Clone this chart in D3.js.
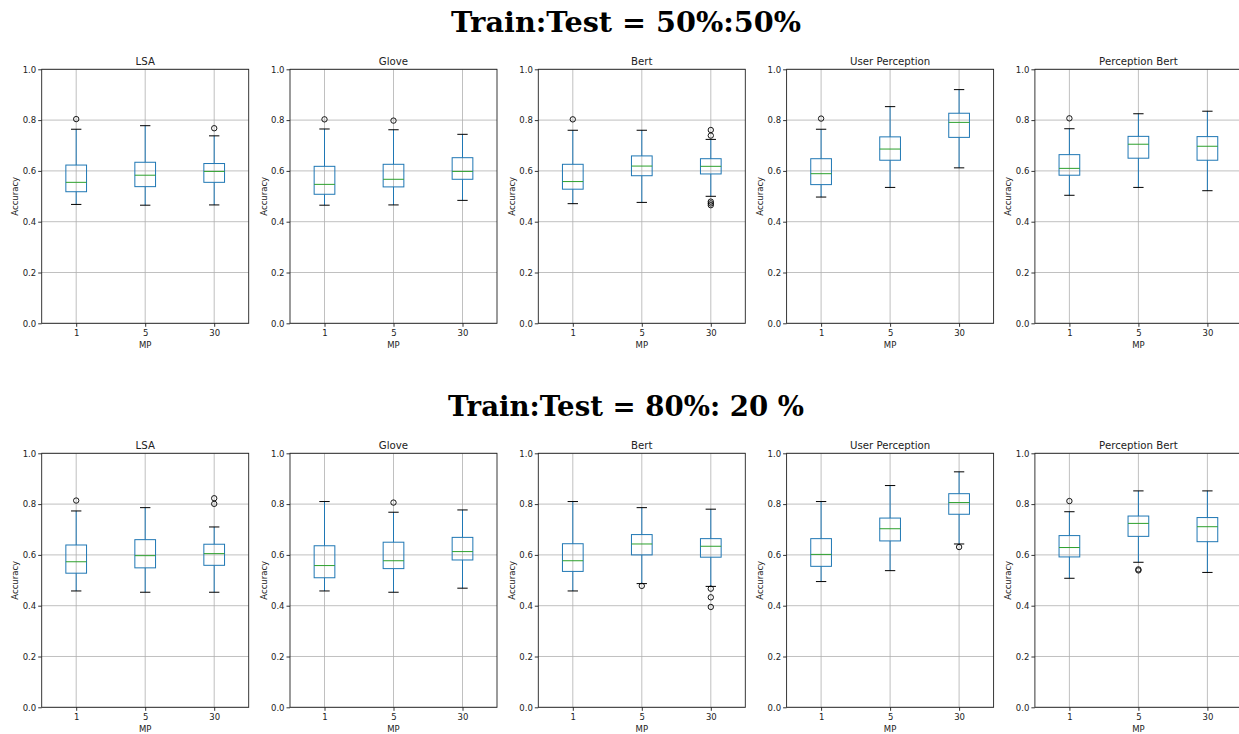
<!DOCTYPE html>
<html>
<head>
<meta charset="utf-8">
<script src="https://cdn.jsdelivr.net/npm/d3@7"></script>
<style>
  body { margin: 0; background: #fff; }
  svg { display: block; }
  .tick text { font-family: "DejaVu Sans", sans-serif; }
</style>
</head>
<body>
<div id="chart"></div>
<script>
// categories
const methods = ["LSA", "Glove", "Bert", "User Perception", "Perception Bert"];
const mpLevels = ["1", "5", "30"];
const yTicks = [0, 0.2, 0.4, 0.6, 0.8, 1.0];
const splitTitles = ["Train:Test = 50%:50%", "Train:Test = 80%: 20 %"];

// box stats per panel: [whiskerLow, q1, median, q3, whiskerHigh] for MP 1, 5, 30
// split 50:50
const lsa50 = [[0.468, 0.518, 0.555, 0.623, 0.764], [0.465, 0.538, 0.583, 0.634, 0.778], [0.466, 0.555, 0.598, 0.629, 0.738]];
const glove50 = [[0.465, 0.508, 0.547, 0.618, 0.765], [0.466, 0.537, 0.567, 0.626, 0.762], [0.484, 0.567, 0.598, 0.652, 0.744]];
const bert50 = [[0.471, 0.528, 0.558, 0.626, 0.760], [0.476, 0.581, 0.619, 0.659, 0.760], [0.500, 0.588, 0.618, 0.648, 0.724]];
const user50 = [[0.497, 0.546, 0.589, 0.648, 0.764], [0.535, 0.642, 0.686, 0.734, 0.853], [0.612, 0.732, 0.791, 0.827, 0.920]];
const percBert50 = [[0.504, 0.583, 0.610, 0.664, 0.766], [0.535, 0.650, 0.705, 0.736, 0.825], [0.522, 0.642, 0.697, 0.735, 0.835]];
// split 80:20
const lsa80 = [[0.458, 0.528, 0.573, 0.639, 0.773], [0.453, 0.549, 0.597, 0.660, 0.786], [0.453, 0.559, 0.605, 0.642, 0.710]];
const glove80 = [[0.458, 0.510, 0.558, 0.636, 0.810], [0.453, 0.546, 0.577, 0.650, 0.768], [0.469, 0.580, 0.613, 0.669, 0.777]];
const bert80 = [[0.458, 0.535, 0.577, 0.644, 0.810], [0.487, 0.600, 0.643, 0.680, 0.786], [0.476, 0.591, 0.634, 0.664, 0.780]];
const user80 = [[0.495, 0.555, 0.602, 0.664, 0.810], [0.538, 0.655, 0.703, 0.745, 0.873], [0.643, 0.760, 0.806, 0.841, 0.927]];
const percBert80 = [[0.508, 0.592, 0.629, 0.676, 0.770], [0.571, 0.673, 0.724, 0.753, 0.852], [0.531, 0.652, 0.711, 0.747, 0.852]];

// outliers per panel, for MP 1, 5, 30
const lsa50Fliers = [[0.804], [], [0.768]];
const glove50Fliers = [[0.803], [0.798], []];
const bert50Fliers = [[0.803], [], [0.761, 0.739, 0.479, 0.472, 0.465]];
const user50Fliers = [[0.806], [], []];
const percBert50Fliers = [[0.807], [], []];
const lsa80Fliers = [[0.814], [], [0.823, 0.801]];
const glove80Fliers = [[], [0.806], []];
const bert80Fliers = [[], [0.478], [0.467, 0.433, 0.395]];
const user80Fliers = [[], [], [0.631]];
const percBert80Fliers = [[0.812], [0.543, 0.539], []];

const rows = [
    {title: splitTitles[0], boxes: [lsa50, glove50, bert50, user50, percBert50],
     fliers: [lsa50Fliers, glove50Fliers, bert50Fliers, user50Fliers, percBert50Fliers]},
    {title: splitTitles[1], boxes: [lsa80, glove80, bert80, user80, percBert80],
     fliers: [lsa80Fliers, glove80Fliers, bert80Fliers, user80Fliers, percBert80Fliers]}
];

const width = 1239, height = 734;
const panel_left = 41.7, panel_step = 248.3, panel_w = 207, panel_h = 254;
const row_top = [69.3, 453.3];
const title_y = [21.7, 406.5];
const title_w = [350, 356];

const svg = d3.select('#chart').append('svg')
    .attr('width', width)
    .attr('height', height);

const y = d3.scaleLinear().domain([0, 1]).range([panel_h, 0]);
const x = d3.scalePoint().domain(mpLevels).range([0, panel_w]).padding(0.5);
const boxw = x.step() * 0.3;
const capw = x.step() * 0.15;

rows.forEach((row, r)=>{
    // big serif title, sized to the reference width
    let t = svg.append('text')
        .attr('x', 626)
        .attr('y', title_y[r])
        .attr('text-anchor', 'middle')
        .attr('dominant-baseline', 'central')
        .style('font-family', '"DejaVu Serif", serif')
        .style('font-weight', 'bold')
        .style('font-size', '24px')
        .text(row.title);
    let len = t.node().getComputedTextLength();
    t.style('font-size', (24 * title_w[r] / len) + 'px');

    methods.forEach((m, i)=>{
        let g = svg.append('g')
            .attr('transform', `translate(${panel_left + i * panel_step},${row_top[r]})`);

        // grid
        g.append('g').selectAll('line').data(yTicks).enter()
            .append('line')
            .attr('x1', 0).attr('x2', panel_w)
            .attr('y1', d=>y(d)).attr('y2', d=>y(d))
            .style('stroke', '#b0b0b0').style('stroke-width', 0.8);
        g.append('g').selectAll('line').data(mpLevels).enter()
            .append('line')
            .attr('x1', d=>x(d)).attr('x2', d=>x(d))
            .attr('y1', 0).attr('y2', panel_h)
            .style('stroke', '#b0b0b0').style('stroke-width', 0.8);

        let stats = row.boxes[i];
        let fl = row.fliers[i];

        mpLevels.forEach((mp, j)=>{
            let s = stats[j];
            let cx = x(mp);
            let bg = g.append('g');
            // whiskers
            bg.append('line').attr('x1', cx).attr('x2', cx).attr('y1', y(s[0])).attr('y2', y(s[1]))
                .style('stroke', '#1f77b4').style('stroke-width', 1);
            bg.append('line').attr('x1', cx).attr('x2', cx).attr('y1', y(s[3])).attr('y2', y(s[4]))
                .style('stroke', '#1f77b4').style('stroke-width', 1);
            // caps
            [s[0], s[4]].forEach(v=>{
                bg.append('line').attr('x1', cx - capw / 2).attr('x2', cx + capw / 2)
                    .attr('y1', y(v)).attr('y2', y(v))
                    .style('stroke', '#000').style('stroke-width', 1);
            });
            // box
            bg.append('rect')
                .attr('x', cx - boxw / 2).attr('y', y(s[3]))
                .attr('width', boxw).attr('height', y(s[1]) - y(s[3]))
                .style('fill', 'none').style('stroke', '#1f77b4').style('stroke-width', 1);
            // median
            bg.append('line').attr('x1', cx - boxw / 2).attr('x2', cx + boxw / 2)
                .attr('y1', y(s[2])).attr('y2', y(s[2]))
                .style('stroke', '#2ca02c').style('stroke-width', 1);
            // fliers
            bg.selectAll('circle').data(fl[j]).enter()
                .append('circle')
                .attr('cx', cx).attr('cy', d=>y(d)).attr('r', 2.7)
                .style('fill', 'none').style('stroke', '#000').style('stroke-width', 0.9);
        });

        // axes
        let ya = g.append('g').call(d3.axisLeft(y).tickValues(yTicks).tickFormat(d3.format('.1f')).tickSize(3.5).tickPadding(2));
        let xa = g.append('g').attr('transform', `translate(0,${panel_h})`)
            .call(d3.axisBottom(x).tickSize(3.5).tickPadding(3));
        [ya, xa].forEach(a=>{
            a.select('.domain').remove();
            a.selectAll('.tick line').style('stroke', '#000').style('stroke-width', 0.8);
            a.selectAll('.tick text').style('font-size', '8.5px').style('fill', '#222');
        });

        // frame
        g.append('rect').attr('x', 0).attr('y', 0).attr('width', panel_w).attr('height', panel_h)
            .style('fill', 'none').style('stroke', '#222').style('stroke-width', 0.9);

        // labels
        g.append('text')
            .attr('x', panel_w / 2).attr('y', -4.8)
            .attr('text-anchor', 'middle')
            .style('font-family', '"DejaVu Sans", sans-serif').style('font-size', '10.2px').style('fill', '#222')
            .text(m);
        g.append('text')
            .attr('transform', `translate(-26.5,${panel_h / 2}) rotate(-90)`)
            .attr('text-anchor', 'middle')
            .attr('dominant-baseline', 'central')
            .style('font-family', '"DejaVu Sans", sans-serif').style('font-size', '8.5px').style('fill', '#222')
            .text('Accuracy');
        g.append('text')
            .attr('x', panel_w / 2).attr('y', panel_h + 22)
            .attr('text-anchor', 'middle')
            .attr('dominant-baseline', 'central')
            .style('font-family', '"DejaVu Sans", sans-serif').style('font-size', '8.5px').style('fill', '#222')
            .text('MP');
    });
});
</script>
</body>
</html>
